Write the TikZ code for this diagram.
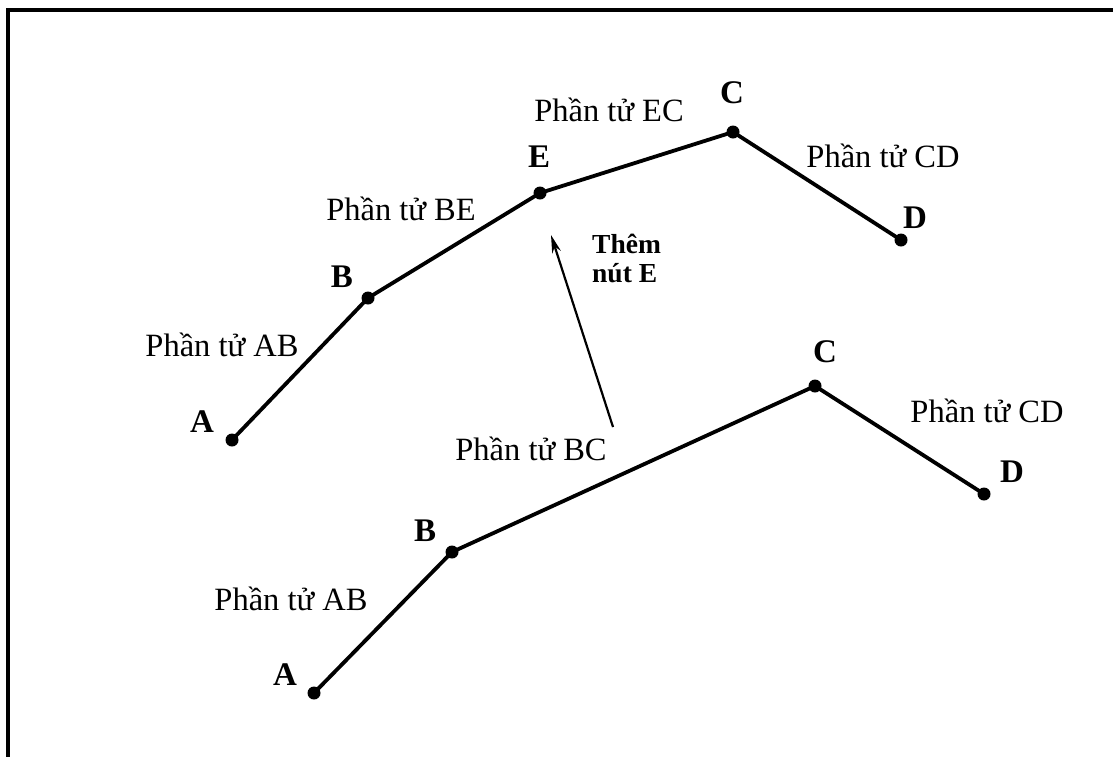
\documentclass[tikz,border=0pt]{standalone}
\usepackage{fontspec}
\setmainfont{Liberation Serif}
\usetikzlibrary{arrows.meta}

\tikzset{
    seg/.style={line width=3.8pt, line cap=round, line join=round},
    dot/.style={fill=black},
    elem/.style={anchor=base, inner sep=0pt, font=\fontsize{32.5}{38}\selectfont},
    ptlabel/.style={anchor=base, inner sep=0pt, font=\fontsize{33}{38}\selectfont\bfseries},
}

\begin{document}
\begin{tikzpicture}[x=1pt, y=-1pt]
    \useasboundingbox (0,0) rectangle (1113,756);
    \fill[white] (0,0) rectangle (1113,756);
    \draw[line width=3.5pt] (8,10) rectangle (1130,775);

    % truoc khi them nut (duoi)
    \coordinate (bA) at (314,693);
    \coordinate (bB) at (452,552);
    \coordinate (bC) at (815,386);
    \coordinate (bD) at (984,494);
    \draw[seg] (bA) -- (bB) -- (bC) -- (bD);
    \foreach \p in {bA,bB,bC,bD}
        \fill[dot] (\p) circle (6.5);
    \node[ptlabel] (bAl) at (285,685) {A};
    \node[ptlabel] (bBl) at (425,541) {B};
    \node[ptlabel] (bCl) at (825,362) {C};
    \node[ptlabel] (bDl) at (1012,482) {D};
    \node[elem] (bAB) at (291,610) {Phần tử AB};
    \node[elem] (bBC) at (531,460) {Phần tử BC};
    \node[elem] (bCD) at (987,422) {Phần tử CD};

    % sau khi them nut E (tren)
    \coordinate (tA) at (232,440);
    \coordinate (tB) at (368,298);
    \coordinate (tE) at (540,193);
    \coordinate (tC) at (733,132);
    \coordinate (tD) at (901,240);
    \draw[seg] (tA) -- (tB) -- (tE) -- (tC) -- (tD);
    \foreach \p in {tA,tB,tE,tC,tD}
        \fill[dot] (\p) circle (6.5);
    \node[ptlabel] (tAl) at (202,432) {A};
    \node[ptlabel] (tBl) at (342,287) {B};
    \node[ptlabel] (tEl) at (539,167) {E};
    \node[ptlabel] (tCl) at (732,103) {C};
    \node[ptlabel] (tDl) at (915,228) {D};
    \node[elem] (tAB) at (222,356) {Phần tử AB};
    \node[elem] (tBE) at (401,220) {Phần tử BE};
    \node[elem] (tEC) at (609,121) {Phần tử EC};
    \node[elem] (tCD) at (883,167) {Phần tử CD};

    % mui ten
    \coordinate (arrS) at (613,427);
    \coordinate (arrE) at (551,235);
    \draw[line width=2.2pt, -{Stealth[length=18pt, width=9pt]}] (arrS) -- (arrE);
    \node[anchor=base west, inner sep=0pt, align=left,
          font=\fontsize{27.5}{29}\selectfont\bfseries] (add) at (592,282) {Thêm\\nút E};
\end{tikzpicture}
\end{document}
